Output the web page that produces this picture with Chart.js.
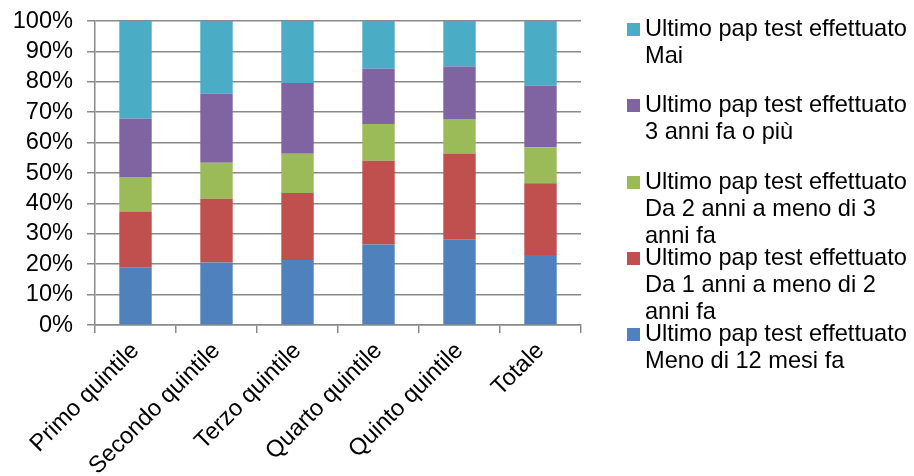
<!DOCTYPE html>
<html>
<head>
<meta charset="utf-8">
<script src="https://cdn.jsdelivr.net/npm/chart.js@4/dist/chart.umd.min.js"></script>
<style>
  body { margin: 0; background: #fff; }
  #wrap { position: relative; width: 914px; height: 476px; overflow: hidden; }
  #legenda { position: absolute; left: 627px; top: 0; font-family: "Liberation Sans", Arial, sans-serif; font-size: 23.6px; line-height: 27px; color: #000; }
  .voce { position: absolute; left: 0; white-space: nowrap; }
  .quadrato { position: absolute; left: 0; top: 8px; width: 13px; height: 13px; }
  .testo { position: absolute; left: 18px; top: 0; }
</style>
</head>
<body>
<div id="wrap">
  <canvas id="grafico" width="914" height="476"></canvas>
  <div id="legenda"></div>
</div>
<script>
// categorie (quintili di reddito)
const categorie = ["Primo quintile", "Secondo quintile", "Terzo quintile", "Quarto quintile", "Quinto quintile", "Totale"];

// percentuali per ultimo pap test effettuato
const menoDi12Mesi = [18.8, 20.6, 21.4, 26.5, 28.2, 23.0];
const da1a2Anni = [18.5, 20.9, 22.0, 27.5, 28.2, 23.6];
const da2a3Anni = [11.4, 11.9, 12.9, 12.1, 11.4, 11.9];
const treAnniOPiu = [19.2, 22.7, 23.3, 18.2, 17.2, 20.2];
const mai = [32.1, 23.9, 20.4, 15.7, 15.0, 21.3];

const tickY = [0, 10, 20, 30, 40, 50, 60, 70, 80, 90, 100];

// nomi delle serie, una riga per elemento
const nomiSerie = [
  ["Ultimo pap test effettuato", "Meno di 12 mesi fa"],
  ["Ultimo pap test effettuato", "Da 1 anni a meno di 2", "anni fa"],
  ["Ultimo pap test effettuato", "Da 2 anni a meno di 3", "anni fa"],
  ["Ultimo pap test effettuato", "3 anni fa o più"],
  ["Ultimo pap test effettuato", "Mai"]
];
const colori = ["#4F81BD", "#C0504D", "#9BBB59", "#8064A2", "#4BACC6"];
const valori = [menoDi12Mesi, da1a2Anni, da2a3Anni, treAnniOPiu, mai];

const font = { family: "'Liberation Sans', Arial, sans-serif", size: 23.6 };
const grigio = "#898989";

const datasets = valori.map((v, i) => ({
  label: nomiSerie[i].join(" "),
  data: v,
  backgroundColor: colori[i],
  borderWidth: 0,
  barPercentage: 0.4,
  categoryPercentage: 1
}));

new Chart(document.getElementById("grafico"), {
  type: "bar",
  data: { labels: categorie, datasets: datasets },
  options: {
    responsive: false,
    animation: false,
    layout: { padding: { left: 0, right: 333, top: 0, bottom: 0 } },
    plugins: { legend: { display: false }, tooltip: { enabled: false } },
    scales: {
      x: {
        stacked: true,
        grid: { drawOnChartArea: false, drawTicks: true, tickLength: 8, color: grigio, lineWidth: 1.5 },
        border: { color: grigio, width: 1.5 },
        ticks: { font: font, color: "#000", autoSkip: false, minRotation: 45, maxRotation: 45, padding: 4 },
        afterFit: (scale) => { scale.height = 151; scale.paddingTop = 0; }
      },
      y: {
        stacked: true,
        min: 0,
        max: 100,
        afterBuildTicks: (scale) => { scale.ticks = tickY.map((v) => ({ value: v })); },
        grid: { color: grigio, lineWidth: 1.5, tickLength: 8 },
        border: { color: grigio, width: 1.5 },
        ticks: { font: font, color: "#000", autoSkip: false, padding: 14, callback: (v) => v + "%" },
        afterFit: (scale) => { scale.width = 95; scale.paddingTop = 21; }
      }
    }
  }
});

// legenda a destra, in ordine inverso rispetto alle serie
const legenda = document.getElementById("legenda");
for (let i = nomiSerie.length - 1; i >= 0; i--) {
  const pos = nomiSerie.length - 1 - i;
  const voce = document.createElement("div");
  voce.className = "voce";
  voce.style.top = (15 + pos * 76.25) + "px";
  const q = document.createElement("div");
  q.className = "quadrato";
  q.style.background = colori[i];
  const t = document.createElement("div");
  t.className = "testo";
  t.innerHTML = nomiSerie[i].join("<br>");
  voce.appendChild(q);
  voce.appendChild(t);
  legenda.appendChild(voce);
}
</script>
</body>
</html>
